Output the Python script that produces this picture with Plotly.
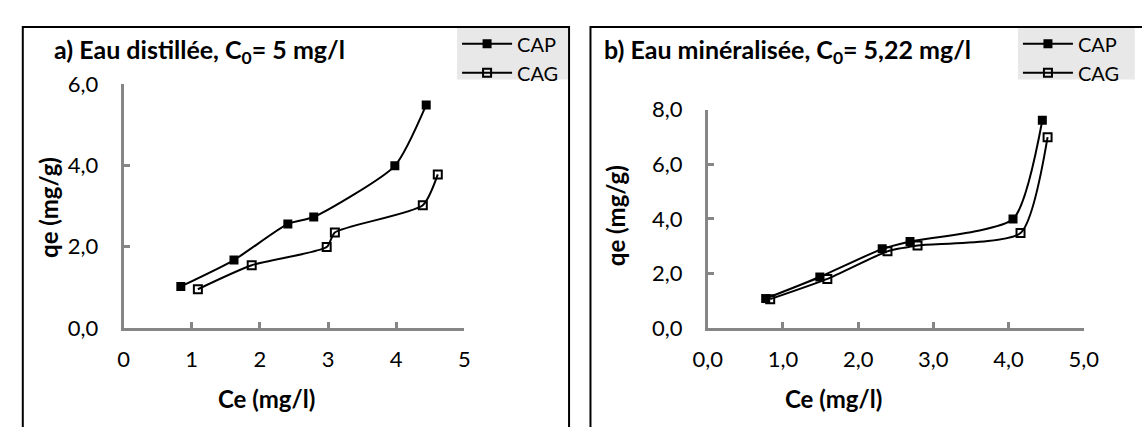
import plotly.graph_objects as go

W, H = 1142, 427

# ---- data ----
ce_cap_a = [0.84, 1.62, 2.41, 2.79, 3.98, 4.44]
qe_cap_a = [1.02, 1.67, 2.56, 2.73, 3.99, 5.49]
ce_cag_a = [1.09, 1.88, 2.98, 3.10, 4.39, 4.61]
qe_cag_a = [0.95, 1.54, 1.99, 2.35, 3.02, 3.78]

ce_cap_b = [0.77, 1.49, 2.32, 2.69, 4.06, 4.45]
qe_cap_b = [1.08, 1.87, 2.90, 3.17, 3.99, 7.61]
ce_cag_b = [0.83, 1.59, 2.39, 2.79, 4.16, 4.52]
qe_cag_b = [1.06, 1.80, 2.81, 3.02, 3.48, 6.99]

xt_a_vals = [0, 1, 2, 3, 4, 5]
xt_a_text = ["0", "1", "2", "3", "4", "5"]
yt_a_vals = [0, 2, 4, 6]
yt_a_text = ["0,0", "2,0", "4,0", "6,0"]
xt_b_vals = [0, 1, 2, 3, 4, 5]
xt_b_text = ["0,0", "1,0", "2,0", "3,0", "4,0", "5,0"]
yt_b_vals = [0, 2, 4, 6, 8]
yt_b_text = ["0,0", "2,0", "4,0", "6,0", "8,0"]

FONT = "Lato"


def px(x):
    return x / W


def py(y):
    return 1 - y / H


fig = go.Figure()

line_style = dict(color="black", width=2, shape="spline", smoothing=0.6)
fig.add_trace(go.Scatter(x=ce_cap_a, y=qe_cap_a, name="CAP", mode="lines+markers",
                         line=line_style, marker=dict(symbol="square", size=9, color="black"),
                         xaxis="x", yaxis="y", legend="legend"))
fig.add_trace(go.Scatter(x=ce_cag_a, y=qe_cag_a, name="CAG", mode="lines+markers",
                         line=line_style,
                         marker=dict(symbol="square-open", size=8, color="black", line=dict(width=2)),
                         xaxis="x", yaxis="y", legend="legend"))
fig.add_trace(go.Scatter(x=ce_cap_b, y=qe_cap_b, name="CAP", mode="lines+markers",
                         line=line_style, marker=dict(symbol="square", size=9, color="black"),
                         xaxis="x2", yaxis="y2", legend="legend2"))
fig.add_trace(go.Scatter(x=ce_cag_b, y=qe_cag_b, name="CAG", mode="lines+markers",
                         line=line_style,
                         marker=dict(symbol="square-open", size=8, color="black", line=dict(width=2)),
                         xaxis="x2", yaxis="y2", legend="legend2"))

axis_common = dict(showline=True, linecolor="#868686", linewidth=3, ticks="inside",
                   ticklen=6, tickwidth=3, tickcolor="#868686", showgrid=False,
                   zeroline=False, tickfont=dict(family=FONT, size=22, color="black"))

legend_font = dict(family=FONT, size=20, color="black")
fig.update_layout(
    width=W, height=H,
    margin=dict(l=0, r=0, t=0, b=0),
    paper_bgcolor="white", plot_bgcolor="white",
    font=dict(family=FONT, color="black"),
    xaxis=dict(domain=[px(111.5), px(461.5)], range=[0, 5], anchor="y",
               tickvals=xt_a_vals, ticktext=xt_a_text, ticklabelstandoff=10, **axis_common),
    yaxis=dict(domain=[py(335), py(75)], range=[0, 6], anchor="x",
               tickvals=yt_a_vals, ticktext=yt_a_text, ticklabelstandoff=18, **axis_common),
    xaxis2=dict(domain=[px(711.5), px(1097.5)], range=[0, 5], anchor="y2",
                tickvals=xt_b_vals, ticktext=xt_b_text, ticklabelstandoff=10, **axis_common),
    yaxis2=dict(domain=[py(335.3), py(102)], range=[0, 8], anchor="x2",
                tickvals=yt_b_vals, ticktext=yt_b_text, ticklabelstandoff=18, **axis_common),
    legend=dict(x=px(454), y=py(11), xanchor="left", yanchor="top", itemwidth=50,
                bgcolor="rgba(0,0,0,0)", font=legend_font, tracegroupgap=0),
    legend2=dict(x=px(1030), y=py(11), xanchor="left", yanchor="top", itemwidth=50,
                 bgcolor="rgba(0,0,0,0)", font=legend_font, tracegroupgap=0),
    showlegend=True,
)

shapes = [
    # legend backgrounds
    dict(type="rect", xref="paper", yref="paper", x0=px(454), x1=px(568), y0=py(70), y1=py(14),
         fillcolor="#e8e8e8", line=dict(width=0), layer="below"),
    dict(type="rect", xref="paper", yref="paper", x0=px(1030), x1=px(1150), y0=py(70), y1=py(14),
         fillcolor="#e8e8e8", line=dict(width=0), layer="below"),
    # panel borders
    dict(type="rect", xref="paper", yref="paper", x0=px(8), x1=px(569), y0=py(445), y1=py(14),
         line=dict(color="black", width=2), fillcolor="rgba(0,0,0,0)"),
    dict(type="rect", xref="paper", yref="paper", x0=px(591), x1=px(1160), y0=py(445), y1=py(14),
         line=dict(color="black", width=2), fillcolor="rgba(0,0,0,0)"),
]
fig.update_layout(shapes=shapes)

title_font = dict(family=FONT, size=25, color="black")
axt_font = dict(family=FONT, size=24, color="black")
ann = [
    dict(text="<b>a) Eau distillée, C<sub>0</sub>= 5 mg/l</b>", x=px(38), y=py(40),
         xanchor="left", yanchor="middle", font=title_font),
    dict(text="<b>b) Eau minéralisée, C<sub>0</sub>= 5,22 mg/l</b>", x=px(603), y=py(40),
         xanchor="left", yanchor="middle", font=title_font),
    dict(text="<b>qe (mg/g)</b>", x=px(35), y=py(207), textangle=-90,
         xanchor="center", yanchor="middle", font=axt_font),
    dict(text="<b>qe (mg/g)</b>", x=px(617), y=py(215), textangle=-90,
         xanchor="center", yanchor="middle", font=axt_font),
    dict(text="<b>Ce (mg/l)</b>", x=px(258), y=py(410),
         xanchor="center", yanchor="middle", font=axt_font),
    dict(text="<b>Ce (mg/l)</b>", x=px(841), y=py(410),
         xanchor="center", yanchor="middle", font=axt_font),
]
for a in ann:
    a.update(xref="paper", yref="paper", showarrow=False)
fig.update_layout(annotations=ann)

fig.write_html(
    "out.html",
    config={"displayModeBar": False},
    post_script="document.body.style.margin='0';document.body.style.padding='0';"
                "document.body.style.overflow='hidden';",
)
